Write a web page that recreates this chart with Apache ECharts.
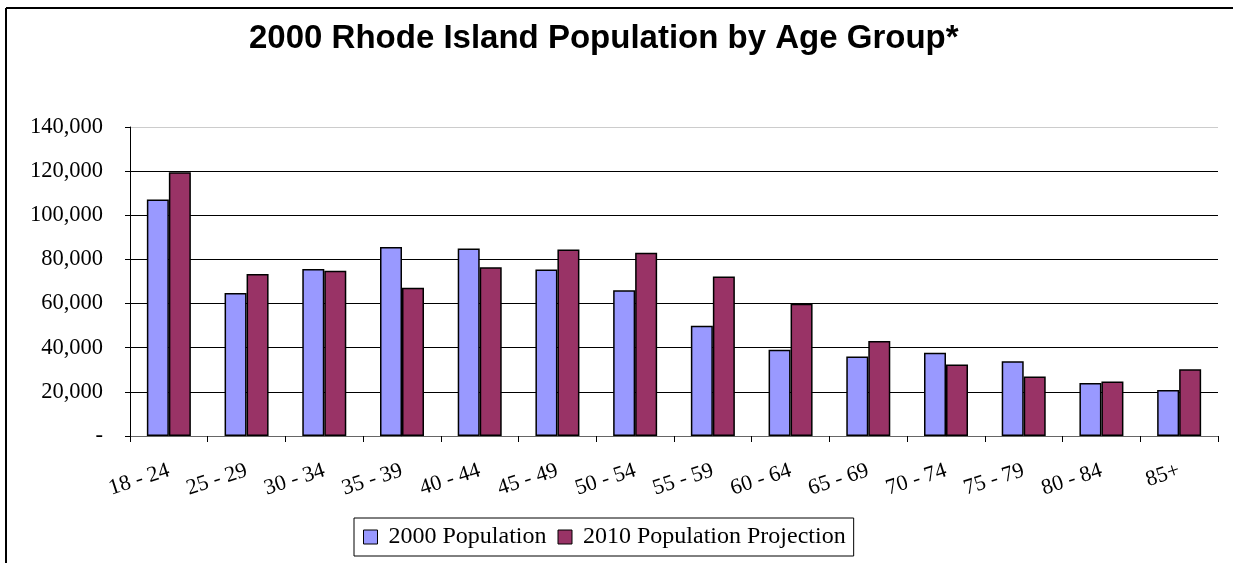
<!DOCTYPE html>
<html>
<head>
<meta charset="utf-8">
<script src="https://cdn.jsdelivr.net/npm/echarts@6/dist/echarts.min.js"></script>
<style>
html,body{margin:0;padding:0;background:#fff;}
#chart{width:1233px;height:563px;}
</style>
</head>
<body>
<div id="chart"></div>
<script>
const categories = ['18 - 24','25 - 29','30 - 34','35 - 39','40 - 44','45 - 49','50 - 54','55 - 59','60 - 64','65 - 69','70 - 74','75 - 79','80 - 84','85+'];
const pop2000 = [107200, 64800, 75700, 85600, 84900, 75400, 66000, 50000, 39100, 36000, 37700, 33900, 24000, 20800];
const pop2010 = [119500, 73400, 74900, 67200, 76400, 84500, 83000, 72300, 59900, 43000, 32400, 27000, 24700, 30200];
const seriesNames = ['2000 Population', '2010 Population Projection'];
const titleText = '2000 Rhode Island Population by Age Group*';

const chart = echarts.init(document.getElementById('chart'));
const serif = '"Liberation Serif", "Times New Roman", serif';
chart.setOption({
  animation: false,
  backgroundColor: '#fff',
  title: {
    text: titleText,
    left: 244,
    top: 17,
    textStyle: {fontFamily: '"Liberation Sans", Arial, sans-serif', fontWeight: 'bold', fontSize: 33, color: '#000'}
  },
  legend: {
    data: seriesNames,
    left: 354,
    top: 518,
    orient: 'horizontal',
    icon: 'rect',
    itemWidth: 14,
    itemHeight: 14,
    itemGap: 11,
    padding: [7, 8, 7, 9],
    borderColor: '#000',
    borderWidth: 1,
    textStyle: {fontFamily: serif, fontSize: 24, color: '#000', padding: [2, 0, 0, 6]},
    itemStyle: {borderColor: '#000', borderWidth: 1}
  },
  grid: {left: 130, right: 15, top: 127, bottom: 127},
  xAxis: {
    type: 'category',
    data: categories,
    axisLine: {show: true, lineStyle: {color: '#666', width: 1}},
    axisTick: {show: true, length: 6, lineStyle: {color: '#000'}},
    axisLabel: {fontFamily: serif, fontSize: 22, color: '#000', rotate: 18, margin: 34, interval: 0}
  },
  yAxis: {
    type: 'value',
    min: 0,
    max: 140000,
    interval: 20000,
    axisLine: {show: true, lineStyle: {color: '#000', width: 1}},
    axisTick: {show: true, length: 5, lineStyle: {color: '#000'}},
    splitLine: {show: true, lineStyle: {color: ['#000','#000','#000','#000','#000','#000','#000','#ccc'], width: 1}},
    axisLabel: {
      fontFamily: serif, fontSize: 22.5, color: '#000', margin: 27,
      formatter: function (v) { return v === 0 ? '-' : v.toLocaleString('en-US'); }
    }
  },
  series: [
    {
      name: seriesNames[0], type: 'bar', data: pop2000,
      barWidth: 22, barGap: '0%',
      itemStyle: {color: '#9999FF', borderColor: '#000', borderWidth: 1.5}
    },
    {
      name: seriesNames[1], type: 'bar', data: pop2010,
      barWidth: 22,
      itemStyle: {color: '#993366', borderColor: '#000', borderWidth: 1.5}
    }
  ],
  graphic: [
    {type: 'line', shape: {x1: 6, y1: 8, x2: 1233, y2: 8}, style: {stroke: '#000', lineWidth: 2}, silent: true},
    {type: 'line', shape: {x1: 6, y1: 8, x2: 6, y2: 563}, style: {stroke: '#000', lineWidth: 2}, silent: true}
  ]
});
</script>
</body>
</html>
